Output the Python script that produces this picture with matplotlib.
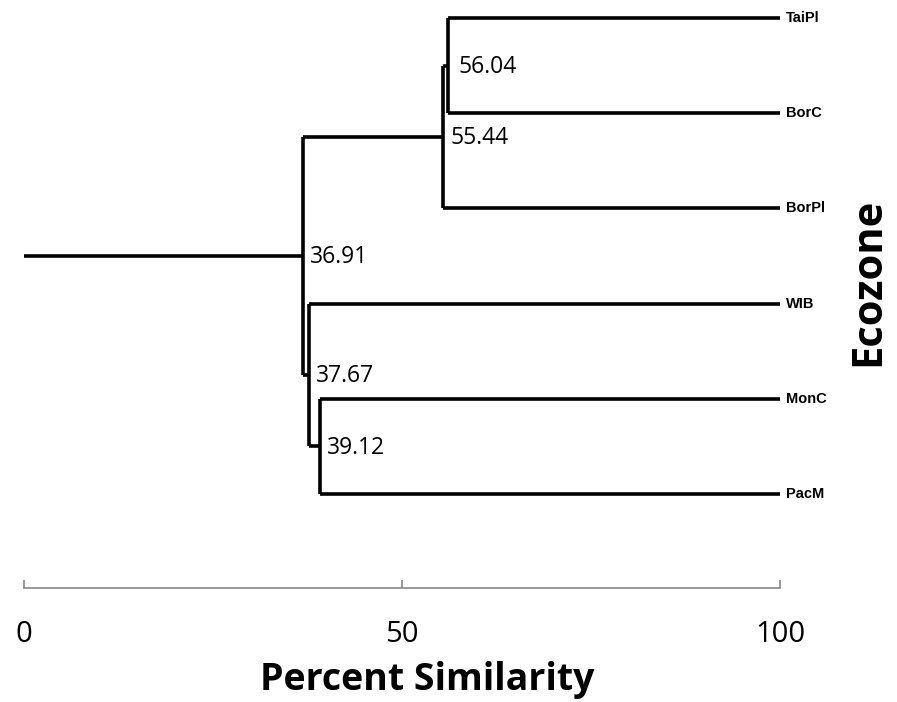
import matplotlib
matplotlib.use("Agg")
import matplotlib.pyplot as plt

# ---- data ----
leaf_labels = ["TaiPl", "BorC", "BorPl", "WIB", "MonC", "PacM"]
# merges: (child_a, child_b, similarity); indices >= 6 refer to earlier merges
merge_a = [0, 6, 4, 3, 7]
merge_b = [1, 2, 5, 8, 9]
merge_sim = [56.04, 55.44, 39.12, 37.67, 36.91]
x_ticks = [0, 50, 100]
x_label = "Percent Similarity"
y_label = "Ecozone"

W, H = 897, 702
fig = plt.figure(figsize=(W / 100, H / 100), dpi=100)
ax = fig.add_axes([24 / W, 1 - 588 / H, 756 / W, 588 / H])

n = len(leaf_labels)
ypos = {i: float(i) for i in range(n)}
xpos = {i: 100.0 for i in range(n)}

lw = 2.6
for k, (a, b, s) in enumerate(zip(merge_a, merge_b, merge_sim)):
    node = n + k
    ya, yb = ypos[a], ypos[b]
    ax.plot([s, s], [ya, yb], color="black", lw=lw, solid_capstyle="butt", clip_on=False)
    ax.plot([s, xpos[a]], [ya, ya], color="black", lw=lw, solid_capstyle="butt", clip_on=False)
    ax.plot([s, xpos[b]], [yb, yb], color="black", lw=lw, solid_capstyle="butt", clip_on=False)
    ypos[node] = (ya + yb) / 2
    xpos[node] = s
    off = 8 if k == 0 else 5
    ax.annotate(f"{s:.2f}", xy=(s, ypos[node]), xytext=(off, -1), textcoords="offset points",
                ha="left", va="center", fontsize=16.5, family="Open Sans")

root = n + len(merge_sim) - 1
ax.plot([0, xpos[root]], [ypos[root], ypos[root]], color="black", lw=lw,
        solid_capstyle="butt", clip_on=False)

for i, lab in enumerate(leaf_labels):
    ax.annotate(lab, xy=(100, ypos[i]), xytext=(4, 0), textcoords="offset points",
                ha="left", va="center", fontsize=10.5, fontweight="bold",
                family=["Liberation Sans Narrow", "Liberation Sans"])

ax.set_xlim(0, 100)
ax.set_ylim((588 - 18) / 95.2, -18 / 95.2)
for sp in ["top", "left", "right"]:
    ax.spines[sp].set_visible(False)
ax.spines["bottom"].set_color("#868686")
ax.spines["bottom"].set_linewidth(1.2)
ax.set_yticks([])
ax.set_xticks(x_ticks)
ax.set_xticklabels([str(t) for t in x_ticks], fontsize=21, family="Open Sans")
ax.tick_params(axis="x", direction="in", length=6, width=1.2, color="#868686", pad=23)

fig.text(427 / W, 1 - 690 / H, x_label, ha="center", va="baseline",
         fontsize=27, fontweight="bold", family="Open Sans")
fig.text(869 / W, 1 - 282 / H, y_label, ha="center", va="center", rotation=90,
         fontsize=30, fontweight="bold", family="Open Sans")

fig.savefig("out.png", dpi=100)
